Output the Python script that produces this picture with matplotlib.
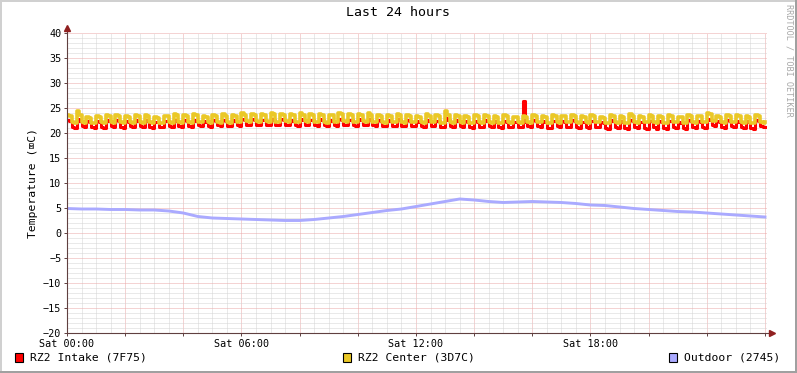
import matplotlib.pyplot as plt
import matplotlib.ticker as ticker
from matplotlib.patches import Rectangle
import numpy as np

W, H = 797, 373

# samples every 5 minutes over 24 hours (289 points), one row per hour
intake = [
    22.6, 22.4, 21.3, 21.1, 22.8, 22.5, 21.4, 21.2, 22.4, 22.3, 21.2, 21.0,
    22.5, 22.3, 21.3, 21.1, 22.6, 22.4, 21.4, 21.2, 22.6, 22.4, 21.2, 21.0,
    22.5, 22.3, 21.4, 21.2, 22.6, 22.4, 21.5, 21.3, 22.6, 22.4, 21.3, 21.1,
    22.3, 22.2, 21.3, 21.2, 22.5, 22.4, 21.5, 21.3, 22.7, 22.5, 21.5, 21.3,
    22.6, 22.4, 21.5, 21.3, 22.7, 22.5, 21.6, 21.4, 22.5, 22.3, 21.4, 21.2,
    22.7, 22.5, 21.6, 21.4, 22.6, 22.4, 21.5, 21.4, 22.6, 22.5, 21.6, 21.5,
    22.9, 22.7, 21.7, 21.6, 22.8, 22.6, 21.7, 21.6, 22.7, 22.6, 21.7, 21.6,
    22.9, 22.7, 21.7, 21.6, 22.8, 22.6, 21.7, 21.6, 22.7, 22.5, 21.6, 21.5,
    22.9, 22.7, 21.7, 21.6, 22.7, 22.6, 21.6, 21.5, 22.8, 22.6, 21.7, 21.5,
    22.7, 22.5, 21.6, 21.5, 22.9, 22.7, 21.7, 21.6, 22.7, 22.6, 21.6, 21.5,
    22.8, 22.6, 21.7, 21.6, 22.9, 22.7, 21.6, 21.5, 22.7, 22.5, 21.5, 21.4,
    22.6, 22.4, 21.5, 21.4, 22.8, 22.6, 21.5, 21.4, 22.7, 22.5, 21.5, 21.4,
    22.5, 22.3, 21.4, 21.3, 22.7, 22.5, 21.5, 21.4, 22.5, 22.4, 21.3, 21.2,
    23.1, 22.6, 21.5, 21.3, 22.6, 22.4, 21.4, 21.3, 22.4, 22.2, 21.3, 21.1,
    22.5, 22.3, 21.3, 21.2, 22.6, 22.4, 21.4, 21.2, 22.4, 22.3, 21.2, 21.1,
    22.5, 22.3, 21.3, 21.2, 22.3, 22.2, 21.3, 21.2, 26.5, 22.3, 21.4, 21.2,
    22.6, 22.4, 21.4, 21.3, 22.4, 22.2, 21.1, 21.0, 22.5, 22.4, 21.4, 21.2,
    22.4, 22.3, 21.3, 21.2, 22.6, 22.4, 21.2, 21.0, 22.3, 22.2, 21.2, 21.1,
    22.5, 22.4, 21.3, 21.2, 22.2, 22.1, 21.1, 20.9, 22.6, 22.4, 21.3, 21.1,
    22.4, 22.3, 21.1, 20.9, 22.7, 22.5, 21.2, 21.0, 22.3, 22.2, 21.1, 20.9,
    22.5, 22.4, 21.2, 20.9, 22.4, 22.2, 21.0, 20.8, 22.5, 22.4, 21.3, 21.1,
    22.2, 22.1, 21.1, 20.9, 22.6, 22.4, 21.2, 21.0, 22.4, 22.3, 21.3, 21.1,
    22.9, 22.7, 21.7, 21.5, 22.4, 22.2, 21.3, 21.1, 22.6, 22.4, 21.4, 21.2,
    22.5, 22.3, 21.2, 21.0, 22.4, 22.2, 21.1, 20.9, 22.6, 22.4, 21.4, 21.2,
    21.3,
]
center = [
    23.7, 23.4, 22.2, 22.0, 24.4, 23.6, 22.3, 22.1, 23.3, 23.1, 22.1, 22.0,
    23.4, 23.2, 22.2, 22.0, 23.6, 23.4, 22.3, 22.1, 23.7, 23.5, 22.2, 22.0,
    23.5, 23.3, 22.2, 22.1, 23.6, 23.4, 22.3, 22.1, 23.7, 23.4, 22.2, 22.0,
    23.3, 23.1, 22.1, 22.0, 23.5, 23.4, 22.2, 22.1, 23.8, 23.6, 22.3, 22.1,
    23.6, 23.4, 22.2, 22.1, 23.8, 23.6, 22.3, 22.2, 23.5, 23.3, 22.2, 22.0,
    23.7, 23.5, 22.3, 22.1, 23.8, 23.5, 22.2, 22.1, 23.6, 23.5, 22.3, 22.2,
    24.0, 23.7, 22.4, 22.2, 23.9, 23.7, 22.4, 22.3, 23.8, 23.6, 22.4, 22.2,
    24.0, 23.8, 22.3, 22.2, 23.9, 23.7, 22.4, 22.3, 23.8, 23.6, 22.3, 22.2,
    24.0, 23.7, 22.4, 22.3, 23.8, 23.6, 22.3, 22.2, 23.9, 23.7, 22.3, 22.1,
    23.7, 23.6, 22.3, 22.2, 24.0, 23.8, 22.4, 22.3, 23.8, 23.6, 22.3, 22.2,
    23.9, 23.7, 22.4, 22.3, 24.0, 23.7, 22.3, 22.2, 23.7, 23.5, 22.2, 22.1,
    23.6, 23.5, 22.3, 22.2, 23.9, 23.6, 22.2, 22.1, 23.7, 23.5, 22.3, 22.2,
    23.5, 23.3, 22.2, 22.1, 23.8, 23.5, 22.3, 22.2, 23.6, 23.4, 22.1, 22.0,
    24.5, 23.7, 22.3, 22.1, 23.7, 23.5, 22.2, 22.1, 23.4, 23.2, 22.1, 22.0,
    23.6, 23.4, 22.2, 22.1, 23.7, 23.5, 22.3, 22.1, 23.5, 23.3, 22.1, 22.0,
    23.6, 23.4, 22.2, 22.1, 23.3, 23.2, 22.2, 22.1, 23.5, 23.3, 22.2, 22.1,
    23.7, 23.5, 22.3, 22.2, 23.4, 23.2, 22.1, 22.0, 23.6, 23.4, 22.2, 22.1,
    23.5, 23.4, 22.3, 22.2, 23.7, 23.4, 22.2, 22.0, 23.4, 23.2, 22.2, 22.1,
    23.6, 23.5, 22.3, 22.2, 23.3, 23.1, 22.1, 22.0, 23.7, 23.4, 22.2, 22.1,
    23.5, 23.3, 22.1, 22.0, 23.8, 23.5, 22.2, 22.1, 23.4, 23.3, 22.3, 22.2,
    23.7, 23.4, 22.2, 22.1, 23.5, 23.3, 22.1, 22.0, 23.6, 23.5, 22.3, 22.2,
    23.3, 23.2, 22.1, 22.0, 23.7, 23.4, 22.2, 22.1, 23.5, 23.4, 22.3, 22.2,
    24.1, 23.8, 22.5, 22.4, 23.5, 23.3, 22.2, 22.1, 23.7, 23.5, 22.3, 22.2,
    23.6, 23.4, 22.2, 22.1, 23.5, 23.3, 22.1, 22.0, 23.7, 23.5, 22.3, 22.1,
    22.2,
]
# outdoor every 30 minutes (49 points)
outdoor = [
    4.9, 4.8, 4.8, 4.7, 4.7, 4.6, 4.6, 4.4, 4.0, 3.3, 3.0, 2.9,
    2.8, 2.7, 2.6, 2.5, 2.5, 2.7, 3.0, 3.3, 3.7, 4.1, 4.5, 4.8,
    5.3, 5.8, 6.3, 6.8, 6.6, 6.3, 6.1, 6.2, 6.3, 6.2, 6.1, 5.9,
    5.6, 5.5, 5.2, 4.9, 4.7, 4.5, 4.3, 4.2, 4.0, 3.8, 3.6, 3.4,
    3.2,
]
series_names = ['RZ2 Intake (7F75)', 'RZ2 Center (3D7C)', 'Outdoor (2745)']
series_colors = ['#FF0000', '#EAC827', '#AAAAFF']
time_labels = ['Sat 00:00', 'Sat 06:00', 'Sat 12:00', 'Sat 18:00']

t5 = np.arange(len(intake)) / 12.0
t30 = np.arange(len(outdoor)) / 2.0

MONO = ['DejaVu Sans Mono', 'DejaVu Sans']

fig = plt.figure(figsize=(W / 100, H / 100), dpi=100)
fig.patch.set_facecolor('white')

def fx(px):
    return px / W

def fy(py):
    return 1 - py / H

# shaded frame
fig.patches.append(Rectangle((0, fy(2)), 1, 2 / H, transform=fig.transFigure,
                             color='#D0D0D0', lw=0))
fig.patches.append(Rectangle((0, 0), 2 / W, 1, transform=fig.transFigure,
                             color='#D0D0D0', lw=0))
fig.patches.append(Rectangle((0, 0), 1, 2 / H, transform=fig.transFigure,
                             color='#A0A0A0', lw=0))
fig.patches.append(Rectangle((fx(W - 2), 0), 2 / W, 1, transform=fig.transFigure,
                             color='#A0A0A0', lw=0))

ax = fig.add_axes([fx(67), fy(333), 700 / W, 300 / H])
ax.set_xlim(0, 24.07)
ax.set_ylim(-20, 40)
for s in ax.spines.values():
    s.set_visible(False)

ax.xaxis.set_major_locator(ticker.MultipleLocator(2))
ax.xaxis.set_minor_locator(ticker.MultipleLocator(0.5))
ax.yaxis.set_major_locator(ticker.MultipleLocator(5))
ax.yaxis.set_minor_locator(ticker.MultipleLocator(1))
ax.grid(which='minor', color='#D4D4D4', lw=0.72, ls=(0, (1, 1)))
ax.grid(which='major', color='#EBA8A8', lw=0.72, ls=(0, (1, 1)))
ax.set_axisbelow(True)

ax.xaxis.set_major_formatter(ticker.FuncFormatter(
    lambda v, p: time_labels[int(round(v)) // 6] if round(v) % 6 == 0 and round(v) < 24 else ''))
ax.tick_params(which='both', length=2, width=0.7, color='#604040', pad=2)
ax.tick_params(which='minor', length=0)
for lab in ax.get_xticklabels() + ax.get_yticklabels():
    lab.set_family(MONO)
    lab.set_fontsize(7.3)

ax.step(t5, intake, where='post', color=series_colors[0], lw=2.2)
ax.step(t5, center, where='post', color=series_colors[1], lw=2.6)
ax.plot(t30, outdoor, color=series_colors[2], lw=2.1)

# axes with arrows
ax.plot([0, 0], [0, 1 + 4 / 300], transform=ax.transAxes, color='#604040',
        lw=0.8, clip_on=False)
ax.plot([0, 1 + 4 / 700], [0, 0], transform=ax.transAxes, color='#604040',
        lw=0.8, clip_on=False)
ax.plot([0], [1 + 5 / 300], transform=ax.transAxes, marker='^', ms=4,
        color='#902020', clip_on=False)
ax.plot([1 + 5 / 700], [0], transform=ax.transAxes, marker='>', ms=4,
        color='#902020', clip_on=False)

ax.set_ylabel('Temperature (\u2327C)', family=MONO, fontsize=8.2, labelpad=4)

fig.text(0.5, fy(13), 'Last 24 hours', ha='center', va='center',
         family=MONO, fontsize=9.5)
fig.text(fx(789), fy(60), 'RRDTOOL / TOBI OETIKER', rotation=270, ha='center',
         va='center', family=MONO, fontsize=6.1, color='#A8A8A8')

# legend
for bx, name, col in zip([15, 343, 669], series_names, series_colors):
    fig.patches.append(Rectangle((fx(bx), fy(362)), 8 / W, 9 / H,
                                 transform=fig.transFigure, facecolor=col,
                                 edgecolor='black', lw=0.8))
    fig.text(fx(bx + 15), fy(358), name, ha='left', va='center',
             family=MONO, fontsize=8.2)

fig.savefig('out.png', dpi=100)
